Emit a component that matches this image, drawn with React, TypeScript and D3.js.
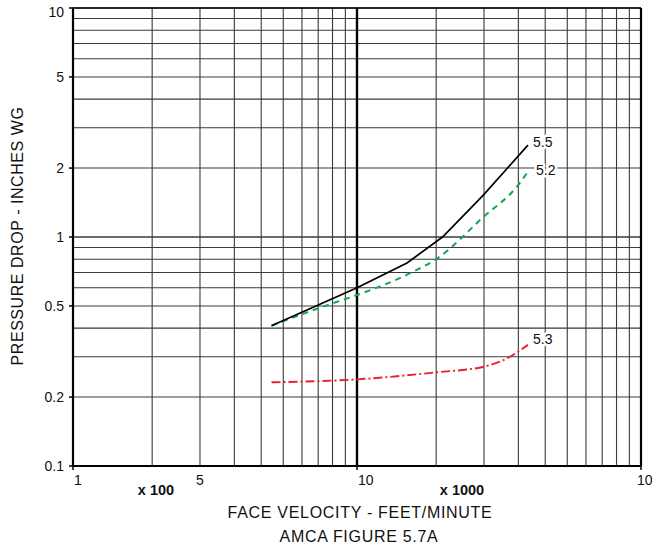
import React from "react";
import * as d3 from "d3";

// ---- data (face velocity in ft/min, pressure drop in inches WG) ----
const curve55X = [500, 1000, 1500, 2000, 2780, 4000];
const curve55Y = [0.41, 0.6, 0.77, 1.0, 1.52, 2.52];

const curve52X = [500, 800, 1000, 1580, 1900, 2780, 3700, 4000];
const curve52Y = [0.41, 0.508, 0.558, 0.706, 0.8, 1.22, 1.69, 1.93];

const curve53X = [500, 1000, 1900, 2800, 3370, 4000];
const curve53Y = [0.232, 0.239, 0.2565, 0.2715, 0.295, 0.338];

const seriesNames = ["5.5", "5.2", "5.3"];

const yTickValues = [10, 5, 2, 1, 0.5, 0.2, 0.1];
const yTickLabels = ["10", "5", "2", "1", "0.5", "0.2", "0.1"];

// x grid: each decade split at 1, 1.9, 2.8 ... 10 (as in the original figure)
const xGridMultipliers = [1, 1.9, 2.8, 3.7, 4.6, 5.5, 6.4, 7.3, 8.2, 9.1, 10];
const xDecades = [100, 1000];
const xTickValues = [100, 280, 1000, 10000];
const xTickLabels = ["1", "5", "10", "10"];
const yGridMultipliers = [1, 2, 3, 4, 5, 6, 7, 8, 9, 10];
const yDecades = [0.1, 1];

const FONT = "'Liberation Sans', Arial, Helvetica, sans-serif";

export default function App() {
  const W = 653;
  const H = 550;
  const left = 73, right = 641, top = 8, bottom = 466;

  const x = d3.scaleLog().domain([100, 10000]).range([left, right]);
  const y = d3.scaleLog().domain([0.1, 10]).range([bottom, top]);

  const xGrid: number[] = [];
  xDecades.forEach((d) => xGridMultipliers.forEach((m) => xGrid.push(d * m)));
  const yGrid: number[] = [];
  yDecades.forEach((d) => yGridMultipliers.forEach((m) => yGrid.push(d * m)));

  const mk = (xs: number[], ys: number[]) => xs.map((v, i) => [v, ys[i]] as [number, number]);
  const d55 = mk(curve55X, curve55Y);
  const d52 = mk(curve52X, curve52Y);
  const d53 = mk(curve53X, curve53Y);

  const linearLine = d3
    .line<[number, number]>()
    .x((d) => x(d[0]))
    .y((d) => y(d[1]));
  const smoothLine = d3
    .line<[number, number]>()
    .x((d) => x(d[0]))
    .y((d) => y(d[1]))
    .curve(d3.curveMonotoneX);

  const gridColor = "#3a3a3a";

  const last = (arr: [number, number][]) => arr[arr.length - 1];
  const e55 = last(d55), e52 = last(d52), e53 = last(d53);

  const labelStyle = {
    fontFamily: FONT,
    fontSize: 14,
    fill: "#111",
    stroke: "#fff",
    strokeWidth: 5,
    paintOrder: "stroke" as const,
    strokeLinejoin: "round" as const,
  };

  const lastTick = xTickValues.length - 1;

  return (
    <svg
      width={W}
      height={H}
      style={{ position: "absolute", left: 0, top: 0, background: "#fff" }}
    >
      <rect x={0} y={0} width={W} height={H} fill="#fff" />
      {/* horizontal grid */}
      {yGrid.map((v, i) => (
        <line
          key={"yg" + i}
          x1={left}
          x2={right}
          y1={y(v)}
          y2={y(v)}
          stroke={gridColor}
          strokeWidth={1.1}
        />
      ))}
      {/* vertical grid */}
      {xGrid.map((v, i) => (
        <line
          key={"xg" + i}
          x1={x(v)}
          x2={x(v)}
          y1={top}
          y2={bottom}
          stroke={v === 1000 ? "#000" : gridColor}
          strokeWidth={v === 1000 ? 2.2 : 1.1}
        />
      ))}
      {/* frame */}
      <line x1={left} x2={right} y1={top} y2={top} stroke="#000" strokeWidth={1.6} />
      <line x1={left} x2={right} y1={bottom} y2={bottom} stroke="#000" strokeWidth={2.2} />
      <line x1={left} x2={left} y1={top} y2={bottom} stroke="#000" strokeWidth={2.2} />
      <line x1={right} x2={right} y1={top} y2={bottom} stroke="#000" strokeWidth={2.2} />

      {/* y ticks + labels */}
      {yTickValues.map((v, i) => (
        <g key={"yt" + i}>
          <line x1={left - 4} x2={left} y1={y(v)} y2={y(v)} stroke="#000" strokeWidth={1.5} />
          <text
            x={left - 9}
            y={y(v) + (i === 0 ? 9 : 5)}
            textAnchor="end"
            style={{ fontFamily: FONT, fontSize: 14, fill: "#111" }}
          >
            {yTickLabels[i]}
          </text>
        </g>
      ))}

      {/* x ticks + labels */}
      {xTickValues.map((v, i) => (
        <g key={"xt" + i}>
          {v !== 280 && (
            <line x1={x(v)} x2={x(v)} y1={bottom} y2={bottom + 4} stroke="#000" strokeWidth={1.5} />
          )}
          <text
            x={i === lastTick ? W - 0.5 : x(v) + (v === 280 ? 0 : 1)}
            y={485}
            textAnchor={i === lastTick ? "end" : v === 280 ? "middle" : "start"}
            style={{ fontFamily: FONT, fontSize: 14, fill: "#111" }}
          >
            {xTickLabels[i]}
          </text>
        </g>
      ))}
      <text
        x={156}
        y={495}
        textAnchor="middle"
        style={{ fontFamily: FONT, fontSize: 14.5, fontWeight: 700, fill: "#111" }}
      >
        x 100
      </text>
      <text
        x={462}
        y={495}
        textAnchor="middle"
        style={{ fontFamily: FONT, fontSize: 14.5, fontWeight: 700, fill: "#111" }}
      >
        x 1000
      </text>

      {/* axis titles */}
      <text
        x={360}
        y={518}
        textAnchor="middle"
        style={{ fontFamily: FONT, fontSize: 16, letterSpacing: 0.7, fill: "#111" }}
      >
        FACE VELOCITY - FEET/MINUTE
      </text>
      <text
        x={359}
        y={542}
        textAnchor="middle"
        style={{ fontFamily: FONT, fontSize: 16, letterSpacing: 0.7, fill: "#111" }}
      >
        AMCA FIGURE 5.7A
      </text>
      <text
        transform={`translate(23,236) rotate(-90)`}
        textAnchor="middle"
        style={{ fontFamily: FONT, fontSize: 16, letterSpacing: 0.55, fill: "#111" }}
      >
        PRESSURE DROP - INCHES WG
      </text>

      {/* curves */}
      <path d={smoothLine(d53) || ""} fill="none" stroke="#ec2028" strokeWidth={1.9} strokeDasharray="9,3,2,3" />
      <path d={smoothLine(d52) || ""} fill="none" stroke="#14a550" strokeWidth={2} strokeDasharray="6,5" />
      <path d={linearLine(d55) || ""} fill="none" stroke="#000" strokeWidth={1.7} />

      {/* curve labels */}
      <text x={x(e55[0]) + 5} y={y(e55[1]) + 2} style={labelStyle}>
        {seriesNames[0]}
      </text>
      <text x={x(e52[0]) + 8} y={y(e52[1]) + 3} style={labelStyle}>
        {seriesNames[1]}
      </text>
      <text x={x(e53[0]) + 5} y={y(e53[1]) - 1} style={labelStyle}>
        {seriesNames[2]}
      </text>
    </svg>
  );
}
